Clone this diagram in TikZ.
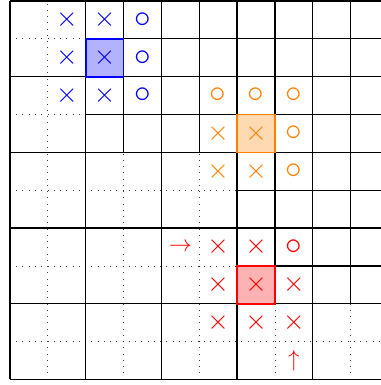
\documentclass[tikz,border=0pt]{standalone}
\usepackage{tikz}
\usetikzlibrary{positioning}
\definecolor{MkBlue}{RGB}{0,0,255}
\definecolor{MkOrange}{RGB}{255,128,0}
\definecolor{MkRed}{RGB}{255,0,0}

\begin{document}
\begin{tikzpicture}[x=1cm, y=1cm,
    cellline/.style={line width=1pt, black},
    subline/.style={line width=0.6pt, dash pattern=on 0.6pt off 4.1pt, black!75},
    cross/.style={font=\huge, inner sep=0pt},
    ring/.style={font=\fontsize{26}{26}\selectfont, inner sep=0pt},
    arrowsym/.style={font=\LARGE, inner sep=0pt},
    hilite/.style={line width=1.3pt}]
  \useasboundingbox (-0.264,-0.146) rectangle (9.776,10.026);

  % Grid: dotted fine lines, solid coarse and fine cells
  \draw[subline] (0,0) grid (10,10);
  \draw[cellline, step=2] (0,0) grid (10,10);
  \draw[cellline] (2,6) grid (10,10);
  \draw[cellline] (6,2) grid (10,6);

  % Highlighted cells
  \filldraw[hilite, draw=MkBlue, fill=MkBlue!30] (2,8) rectangle (3,9);
  \filldraw[hilite, draw=MkOrange, fill=MkOrange!30] (6,6) rectangle (7,7);
  \filldraw[hilite, draw=MkRed, fill=MkRed!30] (6,2) rectangle (7,3);

  % Blue marks
  \foreach \c/\r in {1/0, 2/0, 1/1, 2/1, 1/2, 2/2} {
    \node[cross, MkBlue] (b\c\r) at (\c+.5, 9.5-\r) {$\times$};
  }
  \foreach \c/\r in {3/0, 3/1, 3/2} {
    \node[ring, MkBlue] (b\c\r) at (\c+.5, 9.5-\r) {$\circ$};
  }

  % Orange marks
  \foreach \c/\r in {5/3, 6/3, 5/4, 6/4} {
    \node[cross, MkOrange] (o\c\r) at (\c+.5, 9.5-\r) {$\times$};
  }
  \foreach \c/\r in {5/2, 6/2, 7/2, 7/3, 7/4} {
    \node[ring, MkOrange] (o\c\r) at (\c+.5, 9.5-\r) {$\circ$};
  }

  % Red marks
  \foreach \c/\r in {5/6, 6/6, 5/7, 6/7, 7/7, 5/8, 6/8, 7/8} {
    \node[cross, MkRed] (r\c\r) at (\c+.5, 9.5-\r) {$\times$};
  }
  \node[ring, MkRed] (r76) at (7.5, 3.5) {$\circ$};
  \node[arrowsym, MkRed] (rin) at (4.5, 3.5) {$\rightarrow$};
  \node[arrowsym, MkRed] (rup) at (7.5, 0.5) {$\uparrow$};
\end{tikzpicture}
\end{document}
